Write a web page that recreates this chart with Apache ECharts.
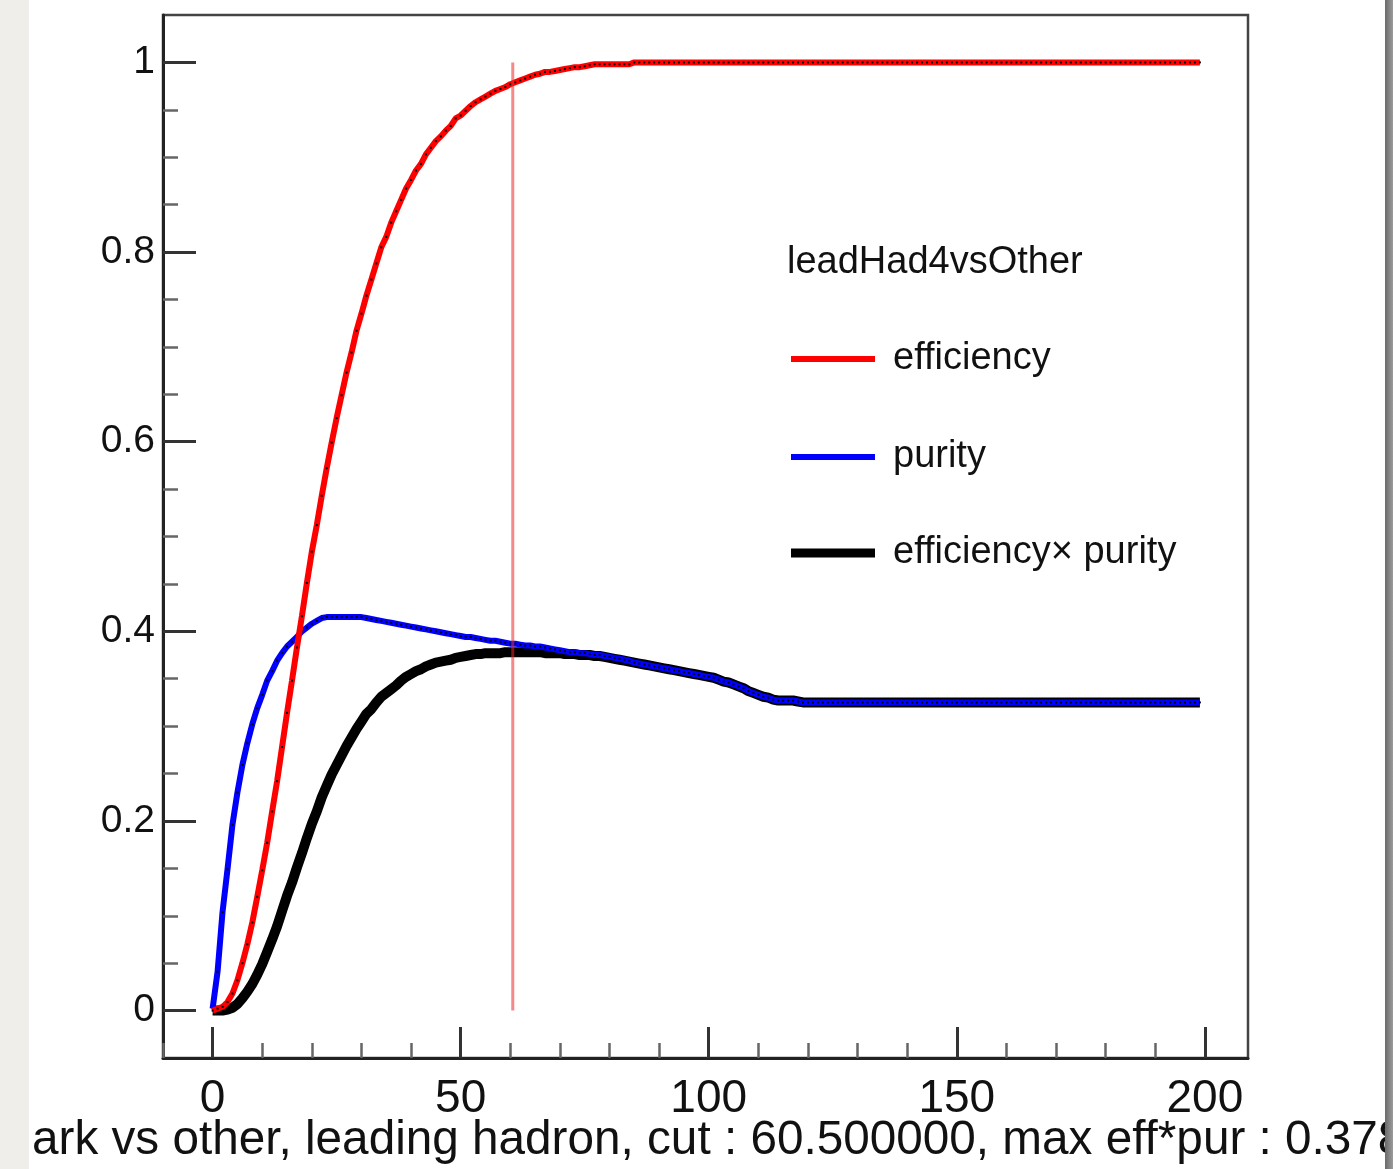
<!DOCTYPE html>
<html>
<head>
<meta charset="utf-8">
<title>leadHad4vsOther</title>
<script src="https://cdn.jsdelivr.net/npm/echarts@6/dist/echarts.min.js"></script>
<style>
  html, body { margin: 0; padding: 0; background: #ffffff; }
  #chart { width: 1393px; height: 1169px; }
</style>
</head>
<body>
<div id="chart"></div>
<script>
// Cut scan on the leading-hadron variable, one bin per unit (bins 0..199)
const binStart = 0;
const binWidth = 1;

const efficiency = [
  0.000, 0.002, 0.004, 0.009, 0.018, 0.032, 0.050, 0.070, 0.093, 0.120,
  0.148, 0.177, 0.210, 0.242, 0.278, 0.314, 0.348, 0.383, 0.416, 0.451,
  0.484, 0.512, 0.543, 0.572, 0.599, 0.625, 0.649, 0.673, 0.694, 0.717,
  0.735, 0.754, 0.771, 0.788, 0.805, 0.816, 0.831, 0.843, 0.855, 0.867,
  0.876, 0.886, 0.893, 0.903, 0.910, 0.917, 0.922, 0.928, 0.933, 0.941,
  0.944, 0.949, 0.954, 0.958, 0.961, 0.964, 0.967, 0.970, 0.972, 0.974,
  0.977, 0.979, 0.981, 0.983, 0.985, 0.987, 0.988, 0.990, 0.990, 0.991,
  0.992, 0.993, 0.994, 0.995, 0.995, 0.996, 0.997, 0.998, 0.998, 0.998,
  0.998, 0.998, 0.998, 0.998, 0.998, 1.000, 1.000, 1.000, 1.000, 1.000,
  1.000, 1.000, 1.000, 1.000, 1.000, 1.000, 1.000, 1.000, 1.000, 1.000,
  1.000, 1.000, 1.000, 1.000, 1.000, 1.000, 1.000, 1.000, 1.000, 1.000,
  1.000, 1.000, 1.000, 1.000, 1.000, 1.000, 1.000, 1.000, 1.000, 1.000,
  1.000, 1.000, 1.000, 1.000, 1.000, 1.000, 1.000, 1.000, 1.000, 1.000,
  1.000, 1.000, 1.000, 1.000, 1.000, 1.000, 1.000, 1.000, 1.000, 1.000,
  1.000, 1.000, 1.000, 1.000, 1.000, 1.000, 1.000, 1.000, 1.000, 1.000,
  1.000, 1.000, 1.000, 1.000, 1.000, 1.000, 1.000, 1.000, 1.000, 1.000,
  1.000, 1.000, 1.000, 1.000, 1.000, 1.000, 1.000, 1.000, 1.000, 1.000,
  1.000, 1.000, 1.000, 1.000, 1.000, 1.000, 1.000, 1.000, 1.000, 1.000,
  1.000, 1.000, 1.000, 1.000, 1.000, 1.000, 1.000, 1.000, 1.000, 1.000,
  1.000, 1.000, 1.000, 1.000, 1.000, 1.000, 1.000, 1.000, 1.000, 1.000
];

const purity = [
  0.002, 0.041, 0.104, 0.149, 0.196, 0.230, 0.259, 0.282, 0.302, 0.319,
  0.333, 0.348, 0.358, 0.369, 0.377, 0.384, 0.389, 0.394, 0.400, 0.404,
  0.408, 0.411, 0.414, 0.415, 0.415, 0.415, 0.415, 0.415, 0.415, 0.415,
  0.415, 0.414, 0.413, 0.412, 0.411, 0.410, 0.409, 0.408, 0.407, 0.406,
  0.405, 0.404, 0.403, 0.402, 0.401, 0.400, 0.399, 0.398, 0.397, 0.396,
  0.395, 0.394, 0.394, 0.393, 0.392, 0.391, 0.390, 0.390, 0.389, 0.388,
  0.387, 0.387, 0.386, 0.385, 0.385, 0.384, 0.384, 0.383, 0.382, 0.381,
  0.380, 0.379, 0.378, 0.378, 0.377, 0.377, 0.376, 0.375, 0.375, 0.374,
  0.373, 0.372, 0.371, 0.370, 0.369, 0.367, 0.366, 0.365, 0.364, 0.363,
  0.362, 0.361, 0.360, 0.359, 0.358, 0.357, 0.356, 0.355, 0.354, 0.353,
  0.352, 0.351, 0.349, 0.347, 0.346, 0.344, 0.342, 0.340, 0.337, 0.335,
  0.333, 0.331, 0.330, 0.328, 0.327, 0.327, 0.327, 0.327, 0.326, 0.325,
  0.325, 0.325, 0.325, 0.325, 0.325, 0.325, 0.325, 0.325, 0.325, 0.325,
  0.325, 0.325, 0.325, 0.325, 0.325, 0.325, 0.325, 0.325, 0.325, 0.325,
  0.325, 0.325, 0.325, 0.325, 0.325, 0.325, 0.325, 0.325, 0.325, 0.325,
  0.325, 0.325, 0.325, 0.325, 0.325, 0.325, 0.325, 0.325, 0.325, 0.325,
  0.325, 0.325, 0.325, 0.325, 0.325, 0.325, 0.325, 0.325, 0.325, 0.325,
  0.325, 0.325, 0.325, 0.325, 0.325, 0.325, 0.325, 0.325, 0.325, 0.325,
  0.325, 0.325, 0.325, 0.325, 0.325, 0.325, 0.325, 0.325, 0.325, 0.325,
  0.325, 0.325, 0.325, 0.325, 0.325, 0.325, 0.325, 0.325, 0.325, 0.325
];

const effTimesPurity = [
  0.000, 0.000, 0.000, 0.001, 0.003, 0.007, 0.013, 0.020, 0.028, 0.038,
  0.049, 0.062, 0.075, 0.089, 0.105, 0.121, 0.135, 0.151, 0.166, 0.182,
  0.197, 0.210, 0.225, 0.237, 0.249, 0.259, 0.269, 0.279, 0.288, 0.297,
  0.305, 0.313, 0.318, 0.325, 0.331, 0.335, 0.339, 0.343, 0.348, 0.352,
  0.355, 0.358, 0.360, 0.363, 0.365, 0.367, 0.368, 0.369, 0.370, 0.372,
  0.373, 0.374, 0.375, 0.376, 0.376, 0.377, 0.377, 0.377, 0.377, 0.378,
  0.378, 0.378, 0.378, 0.378, 0.378, 0.378, 0.378, 0.377, 0.377, 0.377,
  0.377, 0.376, 0.376, 0.376, 0.375, 0.375, 0.375, 0.374, 0.374, 0.373,
  0.372, 0.371, 0.370, 0.369, 0.368, 0.367, 0.366, 0.365, 0.364, 0.363,
  0.362, 0.361, 0.360, 0.359, 0.358, 0.357, 0.356, 0.355, 0.354, 0.353,
  0.352, 0.351, 0.349, 0.347, 0.346, 0.344, 0.342, 0.340, 0.337, 0.335,
  0.333, 0.331, 0.330, 0.328, 0.327, 0.327, 0.327, 0.327, 0.326, 0.325,
  0.325, 0.325, 0.325, 0.325, 0.325, 0.325, 0.325, 0.325, 0.325, 0.325,
  0.325, 0.325, 0.325, 0.325, 0.325, 0.325, 0.325, 0.325, 0.325, 0.325,
  0.325, 0.325, 0.325, 0.325, 0.325, 0.325, 0.325, 0.325, 0.325, 0.325,
  0.325, 0.325, 0.325, 0.325, 0.325, 0.325, 0.325, 0.325, 0.325, 0.325,
  0.325, 0.325, 0.325, 0.325, 0.325, 0.325, 0.325, 0.325, 0.325, 0.325,
  0.325, 0.325, 0.325, 0.325, 0.325, 0.325, 0.325, 0.325, 0.325, 0.325,
  0.325, 0.325, 0.325, 0.325, 0.325, 0.325, 0.325, 0.325, 0.325, 0.325,
  0.325, 0.325, 0.325, 0.325, 0.325, 0.325, 0.325, 0.325, 0.325, 0.325
];

// Best cut and the resulting maximum of eff*pur
const bestCut = 60.5;
const maxEffPur = 0.378;
const cutLine = [[bestCut, 0], [bestCut, 1]];

// Axis ticks and labels
const xMajorTicks = [0, 50, 100, 150, 200];
const xMinorTicks = [-10, 10, 20, 30, 40, 60, 70, 80, 90, 110, 120, 130, 140, 160, 170, 180, 190];
const yMajorTicks = [0, 0.2, 0.4, 0.6, 0.8, 1];
const yMinorTicks = [0.05, 0.1, 0.15, 0.25, 0.3, 0.35, 0.45, 0.5, 0.55, 0.65, 0.7, 0.75, 0.85, 0.9, 0.95];

const histName = 'leadHad4vsOther';
const seriesNames = ['efficiency', 'purity', 'efficiency\u00d7 purity'];
const xTitle = 'ark vs other, leading hadron, cut : 60.500000, max eff*pur : 0.378';

const FONT = '"Liberation Sans", Arial, Helvetica, sans-serif';

const toPoints = (vals) => vals.map((v, i) => [binStart + i * binWidth, v]);

const chart = echarts.init(document.getElementById('chart'), null, { renderer: 'canvas' });

const legendCommon = {
  orient: 'horizontal',
  left: 791,
  padding: 0,
  itemWidth: 84,
  icon: 'rect',
  selectedMode: false,
  textStyle: {
    fontFamily: FONT, fontSize: 38, color: '#111', lineHeight: 40,
    padding: [0, 0, 0, 13]
  }
};

const option = {
  animation: false,
  backgroundColor: '#ffffff',
  grid: {
    left: 163, right: 145, top: 15, bottom: 111,
    show: true, borderColor: '#444', borderWidth: 2.5, backgroundColor: '#ffffff'
  },
  title: [
    {
      text: histName, left: 787, top: 243, padding: 0,
      textStyle: { fontFamily: FONT, fontSize: 38, fontWeight: 'normal', color: '#111', lineHeight: 40 }
    },
    {
      text: xTitle, left: 32, top: 1116, padding: 0,
      textStyle: { fontFamily: FONT, fontSize: 47.7, fontWeight: 'normal', color: '#111', lineHeight: 50 }
    }
  ],
  legend: [
    Object.assign({}, legendCommon, { data: [seriesNames[0]], top: 339, itemHeight: 6, itemStyle: { color: '#ff0000' } }),
    Object.assign({}, legendCommon, { data: [seriesNames[1]], top: 437, itemHeight: 6, itemStyle: { color: '#0000ff' } }),
    Object.assign({}, legendCommon, { data: [seriesNames[2]], top: 533, itemHeight: 9, itemStyle: { color: '#000000' } })
  ],
  xAxis: [
    {
      type: 'value', position: 'bottom', min: -10, max: 208.7,
      axisLine: { show: true, onZero: false, lineStyle: { color: '#222', width: 3 } },
      axisTick: { show: true, inside: true, length: 31, customValues: xMajorTicks, lineStyle: { color: '#333', width: 3 } },
      axisLabel: { show: true, customValues: xMajorTicks, margin: 18, fontFamily: FONT, fontSize: 46, color: '#111' },
      splitLine: { show: false }
    },
    {
      type: 'value', position: 'bottom', min: -10, max: 208.7,
      axisLine: { show: false, onZero: false },
      axisTick: { show: true, inside: true, length: 15, customValues: xMinorTicks, lineStyle: { color: '#666', width: 2.5 } },
      axisLabel: { show: false },
      splitLine: { show: false }
    }
  ],
  yAxis: [
    {
      type: 'value', position: 'left', min: -0.05, max: 1.05,
      axisLine: { show: true, onZero: false, lineStyle: { color: '#222', width: 3 } },
      axisTick: { show: true, inside: true, length: 33, customValues: yMajorTicks, lineStyle: { color: '#333', width: 3 } },
      axisLabel: { show: true, customValues: yMajorTicks, margin: 8, fontFamily: FONT, fontSize: 39, color: '#111' },
      splitLine: { show: false }
    },
    {
      type: 'value', position: 'left', min: -0.05, max: 1.05,
      axisLine: { show: false, onZero: false },
      axisTick: { show: true, inside: true, length: 15, customValues: yMinorTicks, lineStyle: { color: '#666', width: 2.5 } },
      axisLabel: { show: false },
      splitLine: { show: false }
    }
  ],
  series: [
    {
      name: seriesNames[2], type: 'line', data: toPoints(effTimesPurity),
      symbol: 'none', lineStyle: { color: '#000000', width: 10 }, itemStyle: { color: '#000000' },
      z: 2, silent: true
    },
    {
      name: seriesNames[1], type: 'line', data: toPoints(purity),
      symbol: 'rect', symbolSize: 2, showSymbol: true, showAllSymbol: true,
      lineStyle: { color: '#0000ff', width: 6 }, itemStyle: { color: '#000000' },
      z: 3, silent: true
    },
    {
      name: seriesNames[0], type: 'line', data: toPoints(efficiency),
      symbol: 'rect', symbolSize: 2, showSymbol: true, showAllSymbol: true,
      lineStyle: { color: '#ff0000', width: 6 }, itemStyle: { color: '#000000' },
      z: 4, silent: true
    },
    {
      name: 'cut', type: 'line', data: cutLine,
      symbol: 'none', lineStyle: { color: 'rgba(235, 40, 40, 0.55)', width: 3 },
      z: 5, silent: true
    }
  ],
  graphic: {
    z: 100,
    elements: [
      { type: 'rect', left: 0, top: 0, z: 100, shape: { width: 29, height: 1169 }, style: { fill: '#efeeea' } },
      {
        type: 'rect', left: 1385, top: 0, z: 100, shape: { width: 8, height: 1169 },
        style: {
          fill: new echarts.graphic.LinearGradient(0, 0, 1, 0, [
            { offset: 0, color: '#6a6a6a' },
            { offset: 1, color: '#9c9c9c' }
          ])
        }
      }
    ]
  }
};

chart.setOption(option);
</script>
</body>
</html>
